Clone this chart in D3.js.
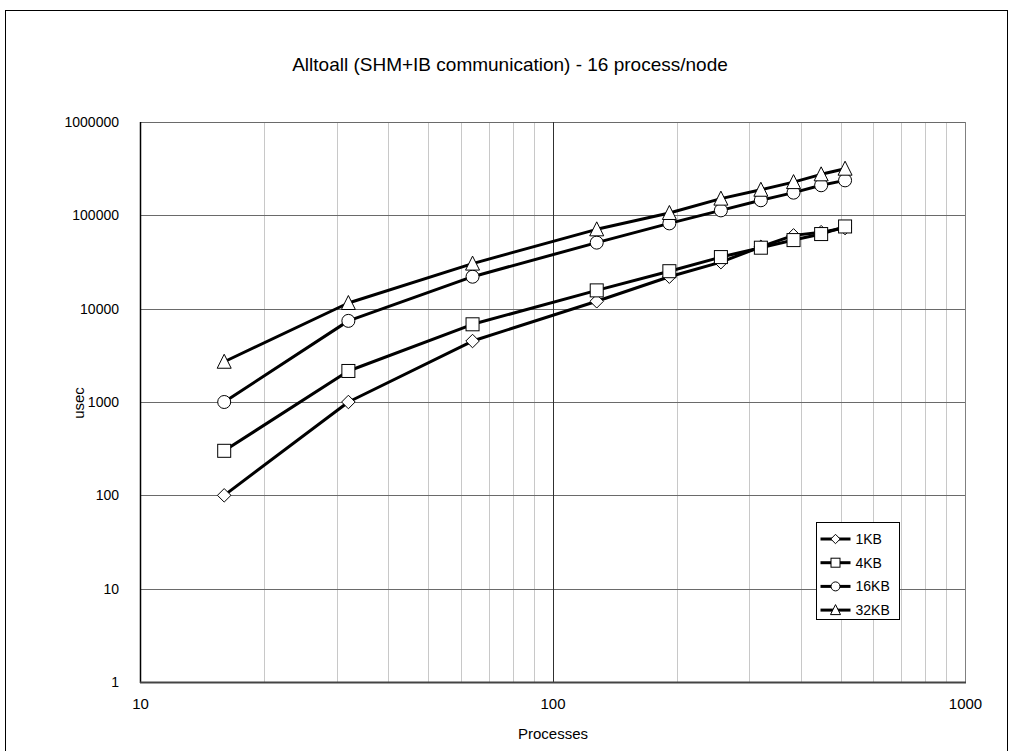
<!DOCTYPE html>
<html>
<head>
<meta charset="utf-8">
<script src="https://cdn.jsdelivr.net/npm/d3@7"></script>
<style>
  html, body { margin: 0; padding: 0; background: #fff; }
  svg { display: block; font-family: "Liberation Sans", Arial, sans-serif; }
</style>
</head>
<body>
<svg id="chart" width="1014" height="751"></svg>
<script>
// Alltoall timing, 16 processes per node
const processes = [16, 32, 64, 128, 192, 256, 320, 384, 448, 512];
const seriesNames = ["1KB", "4KB", "16KB", "32KB"];
const usec1KB  = [100, 1000, 4500, 12000, 22000, 31500, 46000, 61000, 66000, 73000];
const usec4KB  = [300, 2150, 6800, 15700, 25200, 35700, 45000, 54300, 63000, 76000];
const usec16KB = [1000, 7400, 22000, 51000, 82000, 113000, 145000, 175000, 210000, 237000];
const usec32KB = [2700, 11500, 30400, 70800, 106000, 151000, 188000, 227000, 275000, 316000];
const xTicks = [10, 100, 1000];
const yTicks = [1, 10, 100, 1000, 10000, 100000, 1000000];
const titleText = "Alltoall (SHM+IB communication) - 16 process/node";

const seriesValues = [usec1KB, usec4KB, usec16KB, usec32KB];
const shapes = ["diamond", "square", "circle", "triangle"];

const svg = d3.select("#chart");
const plot = { left: 140, right: 965, top: 122, bottom: 682 };

// outer chart frame
svg.append("rect").attr("x", 5.5).attr("y", 10.5).attr("width", 1002).attr("height", 760)
  .attr("fill", "#fff").attr("stroke", "#000").attr("stroke-width", 1);

const x = d3.scaleLog().domain([10, 1000]).range([plot.left, plot.right]);
const y = d3.scaleLog().domain([1, 1000000]).range([plot.bottom, plot.top]);

// minor vertical gridlines
const minorX = [];
for (let d = 10; d < 1000; d *= 10) for (let k = 2; k <= 9; k++) minorX.push(d * k);
svg.append("g").selectAll("line").data(minorX).join("line")
  .attr("x1", d => Math.round(x(d)) + 0.5).attr("x2", d => Math.round(x(d)) + 0.5)
  .attr("y1", plot.top).attr("y2", plot.bottom)
  .attr("stroke", "#c8c8c8").attr("stroke-width", 1);

// major horizontal gridlines
svg.append("g").selectAll("line").data(yTicks).join("line")
  .attr("x1", plot.left).attr("x2", plot.right)
  .attr("y1", d => Math.round(y(d)) + 0.5).attr("y2", d => Math.round(y(d)) + 0.5)
  .attr("stroke", "#6a6a6a").attr("stroke-width", 1);

// major vertical gridlines
svg.append("g").selectAll("line").data(xTicks).join("line")
  .attr("x1", d => Math.round(x(d)) + 0.5).attr("x2", d => Math.round(x(d)) + 0.5)
  .attr("y1", plot.top).attr("y2", plot.bottom)
  .attr("stroke", d => d === 100 ? "#303030" : "#808080").attr("stroke-width", 1);

// axis lines
svg.append("line").attr("x1", plot.left + 0.5).attr("x2", plot.left + 0.5)
  .attr("y1", plot.top).attr("y2", plot.bottom + 1).attr("stroke", "#000").attr("stroke-width", 1.5);
svg.append("line").attr("x1", plot.left).attr("x2", plot.right + 1)
  .attr("y1", plot.bottom + 0.5).attr("y2", plot.bottom + 0.5).attr("stroke", "#444").attr("stroke-width", 2);

// tick labels via d3 axes
const fmt = d3.format("d");
const yAxis = d3.axisLeft(y).tickValues(yTicks).tickFormat(fmt).tickSize(0).tickPadding(21);
svg.append("g").attr("transform", `translate(${plot.left},0)`).call(yAxis)
  .call(g => g.select(".domain").remove())
  .selectAll("text").attr("font-size", 14).attr("fill", "#000")
  .attr("font-family", "Liberation Sans, Arial, sans-serif");

const xAxis = d3.axisBottom(x).tickValues(xTicks).tickFormat(fmt).tickSize(0).tickPadding(16);
svg.append("g").attr("transform", `translate(0,${plot.bottom})`).call(xAxis)
  .call(g => g.select(".domain").remove())
  .selectAll("text").attr("font-size", 15).attr("fill", "#000")
  .attr("font-family", "Liberation Sans, Arial, sans-serif");

// titles
svg.append("text").attr("x", 510).attr("y", 71).attr("text-anchor", "middle")
  .attr("font-size", 19).text(titleText);
svg.append("text").attr("x", 553).attr("y", 739).attr("text-anchor", "middle")
  .attr("font-size", 15).text("Processes");
svg.append("text").attr("transform", "translate(84,403) rotate(-90)").attr("text-anchor", "middle")
  .attr("font-size", 15).text("usec");

// marker drawing
function marker(sel, shape, s) {
  if (shape === "circle") {
    sel.append("circle").attr("r", s * 0.5);
  } else if (shape === "square") {
    sel.append("rect").attr("x", -s / 2).attr("y", -s / 2).attr("width", s).attr("height", s);
  } else if (shape === "diamond") {
    const h = s * 0.52;
    sel.append("path").attr("d", `M0,${-h}L${h},0L0,${h}L${-h},0Z`);
  } else {
    const h = s * 0.5;
    sel.append("path").attr("d", `M0,${-h - 1}L${h + 0.5},${h}L${-h - 0.5},${h}Z`);
  }
}

const line = d3.line().x(d => x(d[0])).y(d => y(d[1]));

seriesValues.forEach(vals => {
  const pts = processes.map((p, j) => [p, vals[j]]);
  svg.append("path").datum(pts).attr("d", line)
    .attr("fill", "none").attr("stroke", "#000").attr("stroke-width", 3)
    .attr("stroke-linejoin", "round");
});
seriesValues.forEach((vals, i) => {
  const pts = processes.map((p, j) => [p, vals[j]]);
  svg.append("g").selectAll("g").data(pts).join("g")
    .attr("transform", d => `translate(${x(d[0])},${y(d[1])})`)
    .each(function () {
      const g = d3.select(this);
      marker(g, shapes[i], 13);
      g.selectAll("*").attr("fill", "#fff").attr("stroke", "#000").attr("stroke-width", 1);
    });
});

// legend
const lg = svg.append("g").attr("transform", "translate(816.5,522.5)");
lg.append("rect").attr("width", 83).attr("height", 97).attr("fill", "#fff")
  .attr("stroke", "#000").attr("stroke-width", 1);
seriesNames.forEach((name, i) => {
  const cy = 16.5 + i * 23.7;
  lg.append("line").attr("x1", 4).attr("x2", 34).attr("y1", cy).attr("y2", cy)
    .attr("stroke", "#000").attr("stroke-width", 3);
  const m = lg.append("g").attr("transform", `translate(19,${cy})`);
  marker(m, shapes[i], 9);
  m.selectAll("*").attr("fill", "#fff").attr("stroke", "#000").attr("stroke-width", 1);
  lg.append("text").attr("x", 39).attr("y", cy + 5).attr("font-size", 14).text(name);
});
</script>
</body>
</html>
